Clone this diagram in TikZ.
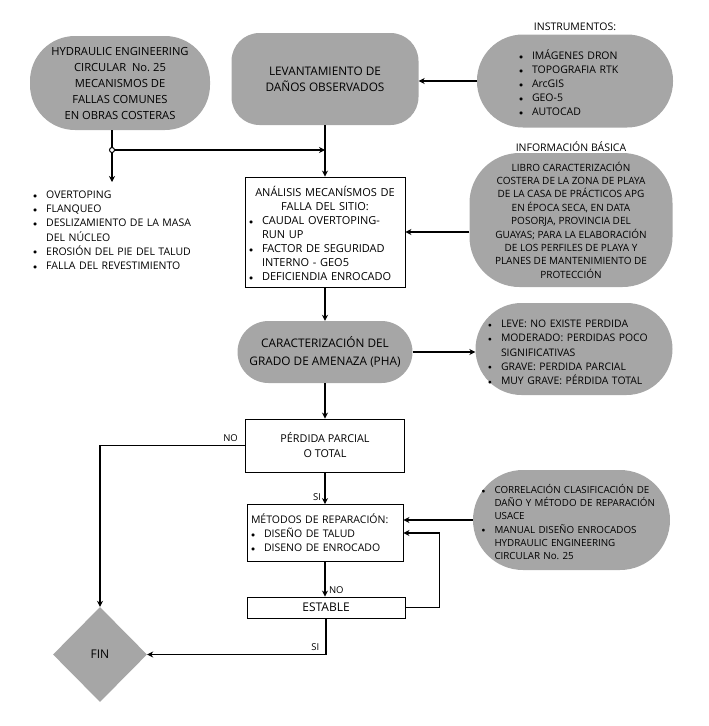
\documentclass[tikz,border=0pt]{standalone}
\usepackage{graphicx}
\usepackage{fontspec}
\setmainfont{Open Sans}
\usetikzlibrary{shapes.geometric,arrows.meta,positioning}
\definecolor{boxgray}{RGB}{166,166,166}
\setlength{\parindent}{0pt}
\setlength{\parskip}{0pt}
\frenchspacing
\newlength{\bulind}
\setlength{\bulind}{13pt}
\newcommand{\bul}[1]{\par\noindent\hangindent=\bulind\hangafter=1\hbox to\bulind{\raisebox{0.3pt}{\scalebox{0.75}{$\bullet$}}\hfil}#1}
\newcommand{\ctrline}[1]{\par\noindent\makebox[\linewidth]{#1}}
\newcommand{\fs}[2]{\fontsize{#1}{#2}\selectfont}

\begin{document}
\begin{tikzpicture}[x=1pt, y=-1pt,
  every node/.style={font=\fs{10.5}{14}},
  pill/.style={fill=boxgray, rounded corners=#1, inner sep=2pt},
  plainbox/.style={draw, line width=0.9pt, inner sep=4pt},
  heading/.style={font=\fs{10.5}{12}},
  tag/.style={font=\fs{9.5}{11}},
  arr/.style={-{Stealth[length=6pt,width=6pt]}, line width=1.4pt},
  link/.style={line width=1.4pt}]
\useasboundingbox (0,0) rectangle (709,726);

% top row
\node[pill=45, minimum width=180pt, minimum height=94pt, align=center, font=\fs{11.2}{16}] (hec) at (120,83) {HYDRAULIC ENGINEERING\\CIRCULAR~~No. 25\\MECANISMOS DE\\FALLAS COMUNES\\EN OBRAS COSTERAS};
\node[pill=28, minimum width=187pt, minimum height=92pt, align=center, font=\fs{11.8}{16}] (lev) at (325,79) {LEVANTAMIENTO DE\\DAÑOS OBSERVADOS};
\node[pill=46, minimum width=196pt, minimum height=93pt, text width=112pt, align=left] (instr) at (575,81) {\bul{IMÁGENES DRON}\bul{TOPOGRAFIA RTK}\bul{ArcGIS}\bul{GEO-5}\bul{AUTOCAD}\par};
\node[heading, above=0pt of instr] (instrlbl) {INSTRUMENTOS:};

% failure mechanisms
\node[text width=205pt, align=left, anchor=north west, inner xsep=5pt, inner ysep=2pt, font=\fs{10.5}{14.2}] (fallas) at (28,182) {\bul{OVERTOPING}\bul{FLANQUEO}\bul{DESLIZAMIENTO DE LA MASA\newline DEL NÚCLEO}\bul{EROSIÓN DEL PIE DEL TALUD}\bul{FALLA DEL REVESTIMIENTO}\par};

% analysis
\node[plainbox, text width=152pt, align=left, minimum height=110pt, font=\fs{11}{14}] (anal) at (325,232) {\ctrline{ANÁLISIS MECANÍSMOS DE}\ctrline{FALLA DEL SITIO:}\bul{CAUDAL OVERTOPING-\newline RUN UP}\bul{FACTOR DE SEGURIDAD\newline INTERNO - GEO5}\bul{DEFICIENDIA ENROCADO}\par};
\node[pill=50, minimum width=203pt, minimum height=134pt, align=center, font=\fs{10}{13.4}] (info) at (571,220) {LIBRO CARACTERIZACIÓN\\COSTERA DE LA ZONA DE PLAYA\\DE LA CASA DE PRÁCTICOS APG\\EN ÉPOCA SECA, EN DATA\\POSORJA, PROVINCIA DEL\\GUAYAS; PARA LA ELABORACIÓN\\DE LOS PERFILES DE PLAYA Y\\PLANES DE MANTENIMIENTO DE\\PROTECCIÓN};
\node[heading, above=-2pt of info] (infolbl) {INFORMACIÓN BÁSICA};

% threat level
\node[pill=31, minimum width=175pt, minimum height=62pt, align=center, font=\fs{11.8}{18}] (pha) at (325,352) {CARACTERIZACIÓN DEL\\GRADO DE AMENAZA (PHA)};
\node[pill=46, minimum width=197pt, minimum height=92pt, text width=172pt, align=left, font=\fs{10.4}{14.2}] (grado) at (574,349) {\bul{LEVE: NO EXISTE PERDIDA}\bul{MODERADO: PERDIDAS POCO\newline SIGNIFICATIVAS}\bul{GRAVE: PERDIDA PARCIAL}\bul{MUY GRAVE: PÉRDIDA TOTAL}\par};

% repair
\node[plainbox, minimum width=159pt, minimum height=53pt, align=center, font=\fs{10.8}{15}] (perd) at (325,445.5) {PÉRDIDA PARCIAL\\O TOTAL};
\node[plainbox, text width=148pt, align=left, minimum height=57pt] (met) at (325,533) {MÉTODOS DE REPARACIÓN:\bul{DISEÑO DE TALUD}\bul{DISENO DE ENROCADO}\par};
\node[pill=50, minimum width=197pt, minimum height=100pt, text width=180pt, align=left, font=\fs{9.8}{13.3}] (corr) at (571.5,520) {\bul{CORRELACIÓN CLASIFICACIÓN DE\newline DAÑO Y MÉTODO DE REPARACIÓN\newline USACE}\bul{MANUAL DISEÑO ENROCADOS\newline HYDRAULIC ENGINEERING\newline CIRCULAR No. 25}\par};
\node[plainbox, minimum width=158pt, minimum height=21pt, inner sep=1pt, font=\fs{12}{14}] (est) at (326,607.5) {ESTABLE};
\node[diamond, fill=boxgray, minimum width=94pt, minimum height=95pt, inner sep=0pt, font=\fs{12}{14}] (fin) at (100,654.5) {FIN};

% connectors
\coordinate (split) at (112,150);
\draw[link] (hec.south -| split) -- (split);
\draw[arr] (split) -- (split -| lev.south);
\draw[arr] (split) -- (fallas.north -| split);
\draw[fill=white, line width=1pt] (split) circle (2.5pt);
\draw[arr] (instr.west) -- (instr.west -| lev.east);
\draw[arr] (lev.south) -- (anal.north);
\draw[arr] (info.west |- anal.east) -- (anal.east);
\draw[arr] (anal.south) -- (pha.north);
\draw[arr] (pha.east) -- (pha.east -| grado.west);
\draw[arr] (pha.south) -- (perd.north);
\draw[arr] (perd.west) -| (fin.north) node[tag, pos=0.05, above] {NO};
\draw[arr] (perd.south) -- (met.north) node[tag, pos=0.78, left] {SI};
\draw[arr] (corr.west) -- (corr.west -| met.east);
\draw[arr] (met.south) -- (met.south |- est.north) node[tag, pos=0.8, right] {NO};
\draw[arr] (est.east) -- ++(34,0) |- (met.east);
\draw[arr] (est.south) |- (fin.east) node[tag, pos=0.53, above] {SI};
\end{tikzpicture}
\end{document}
